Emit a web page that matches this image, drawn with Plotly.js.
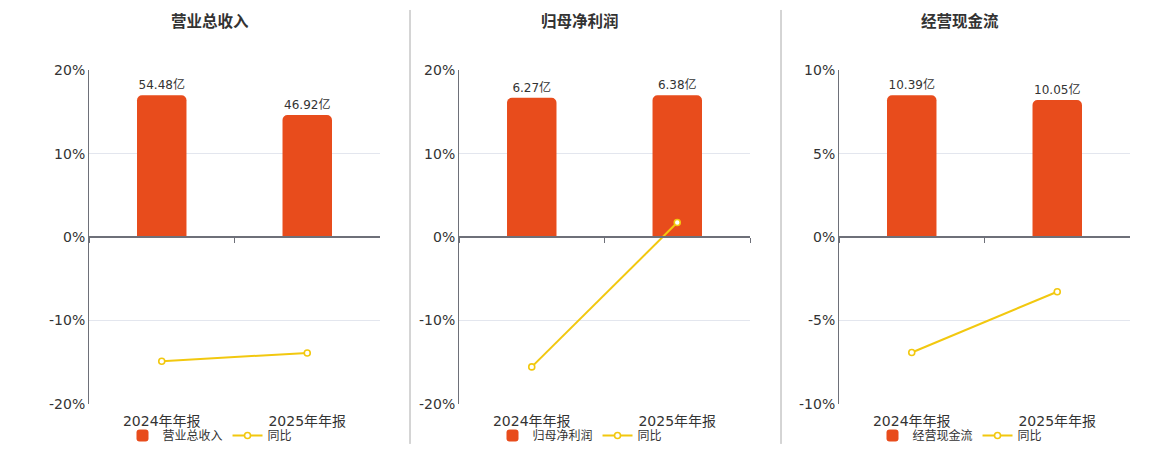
<!DOCTYPE html>
<html>
<head>
<meta charset="utf-8">
<script src="https://cdn.plot.ly/plotly-3.0.1.min.js"></script>
<style>html,body{margin:0;padding:0;background:#fff;}#chart{width:1160px;height:450px;}</style>
</head>
<body>
<div id="chart"></div>
<script>
const categories = ['2024年年报', '2025年年报'];
const panelTitles = ['营业总收入', '归母净利润', '经营现金流'];
const revenue = [54.48, 46.92];
const revenueYoy = [-14.87, -13.88];
const profit = [6.27, 6.38];
const profitYoy = [-15.55, 1.75];
const cashflow = [10.39, 10.05];
const cashflowYoy = [-6.91, -3.27];
const pctTicks = [
  [-20, -10, 0, 10, 20],
  [-20, -10, 0, 10, 20],
  [-10, -5, 0, 5, 10]
];

const barVals = [revenue, profit, cashflow];
const yoyVals = [revenueYoy, profitYoy, cashflowYoy];

const W = 1160, H = 450, MB = 40;
const PH = H - MB;                       // paper height in px
const px = p => p / W;                   // pixel x -> paper fraction
const py = p => (PH - p) / PH;           // pixel y (from top) -> paper fraction
const FONT = 'DejaVu Sans, Noto Sans CJK SC, sans-serif';
const BAR = '#E84C1C', LINE = '#F2C80F';
const plotX = [[89, 380], [459, 750], [839, 1130]];
const titleX = [210, 580, 960];
const yDom = [py(405), py(70.5)];
const zeroPos = py(237.75);

const data = [];
const layout = {
  width: W, height: H,
  margin: {l: 0, r: 0, t: 0, b: MB, pad: 0},
  paper_bgcolor: '#fff', plot_bgcolor: '#fff',
  font: {family: FONT, color: '#333'},
  showlegend: true,
  barcornerradius: 5,
  annotations: [], shapes: []
};

const xn = k => (k === 1 ? 'x' : 'x' + k);
const yn = k => (k === 1 ? 'y' : 'y' + k);
const axKey = (p, k) => p + (k === 1 ? '' : k);

for (let i = 0; i < 3; i++) {
  const xa = i * 2 + 1, xb = i * 2 + 2;
  const ya = i * 2 + 1, yb = i * 2 + 2;
  const legendName = i === 0 ? 'legend' : 'legend' + (i + 1);
  const fmt = v => v.toFixed(2) + '亿';

  data.push({
    type: 'bar', x: categories, y: barVals[i], name: panelTitles[i],
    xaxis: xn(xa), yaxis: yn(ya), legend: legendName,
    marker: {color: BAR}, width: 0.34,
    text: barVals[i].map(fmt), textposition: 'outside',
    textfont: {size: 12, color: '#333', family: FONT},
    cliponaxis: false, hoverinfo: 'skip'
  });
  data.push({
    type: 'scatter', mode: 'lines+markers', x: categories, y: yoyVals[i], name: '同比',
    xaxis: xn(xb), yaxis: yn(yb), legend: legendName,
    line: {color: LINE, width: 2},
    marker: {symbol: 'circle', size: 6, color: '#fff', line: {color: LINE, width: 1.6}},
    cliponaxis: false
  });

  const dom = [px(plotX[i][0]), px(plotX[i][1])];
  const bmax = Math.max(...barVals[i]) / 0.85;
  const ticks = pctTicks[i];
  const pr = ticks[ticks.length - 1];

  layout[axKey('xaxis', xa)] = {
    domain: dom, anchor: yn(ya), type: 'category', range: [-0.5, 1.5],
    showgrid: false, showline: false, zeroline: false, ticks: '',
    ticklabelstandoff: 7, automargin: false,
    tickfont: {size: 14, color: '#333', family: FONT}
  };
  layout[axKey('yaxis', ya)] = {
    domain: yDom, anchor: xn(xa), range: [-bmax, bmax],
    showgrid: false, zeroline: false, showline: false,
    showticklabels: false, ticks: '', automargin: false
  };
  layout[axKey('xaxis', xb)] = {
    domain: dom, overlaying: xn(xa), anchor: 'free', position: zeroPos,
    type: 'category', range: [-0.5, 1.5],
    showgrid: false, zeroline: false, showticklabels: false,
    showline: true, linecolor: '#6e7079', linewidth: 2, automargin: false,
    ticks: 'outside', tickson: 'boundaries', ticklen: 5, tickcolor: '#6e7079', tickwidth: 1
  };
  layout[axKey('yaxis', yb)] = {
    domain: yDom, overlaying: yn(ya), anchor: xn(xa), side: 'left',
    range: [-pr, pr], tickmode: 'array', tickvals: ticks,
    ticktext: ticks.map(v => String(v) + '%'),
    showgrid: true, gridcolor: '#e3e6ee', gridwidth: 1,
    zeroline: false, showline: true, linecolor: '#6e7079', linewidth: 1,
    ticks: '', automargin: false, tickfont: {size: 14, color: '#333', family: FONT}
  };
  layout[legendName] = {
    orientation: 'h', x: px(titleX[i]), xanchor: 'center',
    y: py(436.5), yanchor: 'middle',
    font: {size: 12, color: '#333', family: FONT},
    bgcolor: 'rgba(0,0,0,0)', traceorder: 'normal'
  };
  layout.annotations.push({
    text: '<b>' + panelTitles[i] + '</b>', xref: 'paper', yref: 'paper',
    x: px(titleX[i]), y: py(22), xanchor: 'center', yanchor: 'middle',
    showarrow: false, font: {size: 15.5, color: '#333', family: FONT}
  });
}
[410, 781].forEach(sx => {
  layout.shapes.push({
    type: 'line', xref: 'paper', yref: 'paper',
    x0: px(sx), x1: px(sx), y0: py(445), y1: py(10),
    line: {color: '#aaa', width: 1}
  });
});

Plotly.newPlot('chart', data, layout, {displayModeBar: false, staticPlot: true});
</script>
</body>
</html>
